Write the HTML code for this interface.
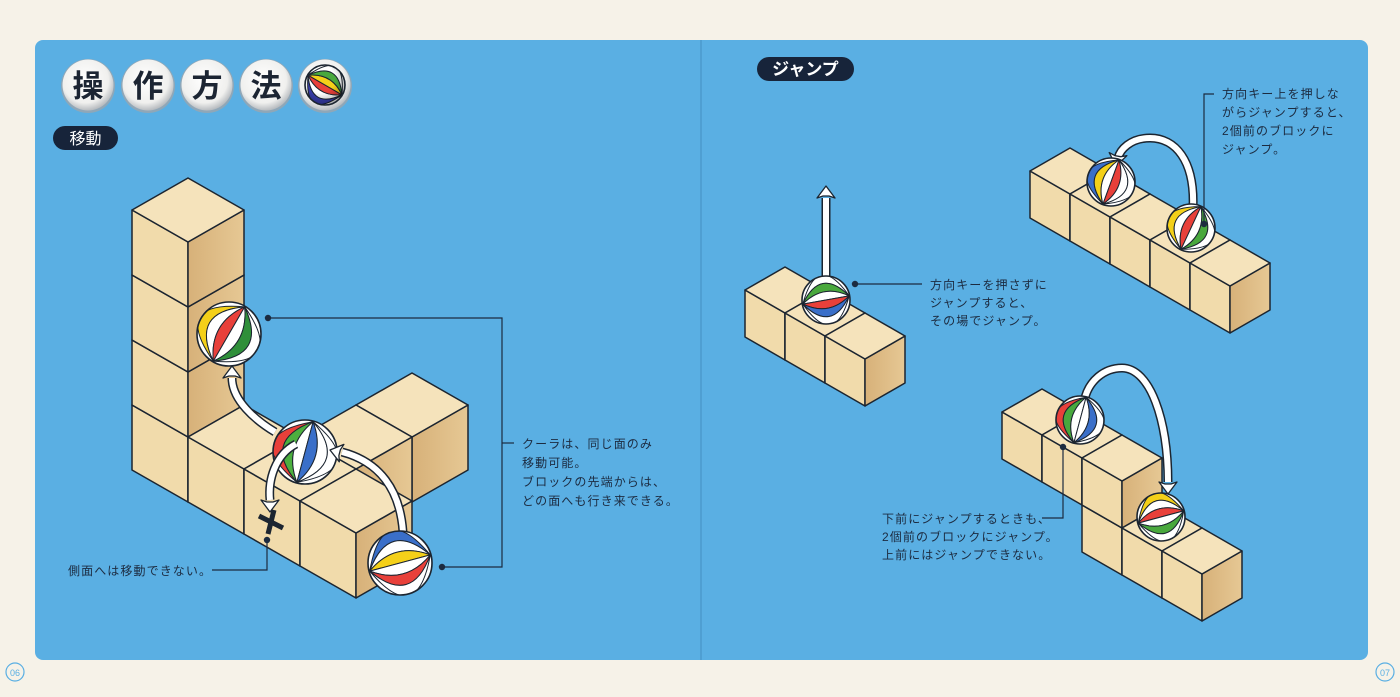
<!DOCTYPE html>
<html><head><meta charset="utf-8">
<style>
html,body{margin:0;padding:0;background:#f6f2e8;}
svg{display:block;}
text{font-family:"Liberation Sans","Noto Sans CJK JP",sans-serif;}
.t{font-size:12px;fill:#1c2b40;letter-spacing:1.1px;}
</style></head>
<body>
<svg id="s" width="1400" height="697" viewBox="0 0 1400 697" xmlns="http://www.w3.org/2000/svg">
<defs>
<linearGradient id="rf" x1="0" y1="0" x2="1" y2="0"><stop offset="0" stop-color="#d7b179"/><stop offset="1" stop-color="#e6c894"/></linearGradient>
<radialGradient id="tc" cx="0.45" cy="0.4" r="0.6"><stop offset="0" stop-color="#ffffff"/><stop offset="0.75" stop-color="#f0f0ee"/><stop offset="1" stop-color="#b8bcc0"/></radialGradient>
<radialGradient id="sh" cx="0.4" cy="0.35" r="0.7"><stop offset="0.5" stop-color="#000" stop-opacity="0"/><stop offset="1" stop-color="#000" stop-opacity="0.35"/></radialGradient>
</defs>
<rect x="0" y="0" width="1400" height="697" fill="#f6f2e8"/>
<rect x="35" y="40" width="1333" height="620" rx="8" fill="#5aafe3"/>
<line x1="701" y1="40" x2="701" y2="660" stroke="#4f9fd2" stroke-width="2"/>
<g id="cubes"></g>
<g id="over"></g>
</svg>
<script>
const NS="http://www.w3.org/2000/svg";
const cg=document.getElementById('cubes');
const og=document.getElementById('over');
function el(p,tag,a,txt){const e=document.createElementNS(NS,tag);for(const k in a)e.setAttribute(k,a[k]);if(txt)e.textContent=txt;p.appendChild(e);return e;}
function pts(a){return a.map(p=>p[0].toFixed(1)+','+p[1].toFixed(1)).join(' ');}
function fig(ox,oy,dx,dy,h,list){
  list.sort((a,b)=>(a[0]+a[1])-(b[0]+b[1])||a[2]-b[2]);
  for(const [x,y,z] of list){
    const X=ox+(x-y)*dx, Y=oy+(x+y)*dy-z*h;
    const T=[X,Y],R=[X+dx,Y+dy],B=[X,Y+2*dy],L=[X-dx,Y+dy];
    const Rh=[R[0],R[1]+h],Bh=[B[0],B[1]+h],Lh=[L[0],L[1]+h];
    const st={stroke:'#1c2530','stroke-width':1.5,'stroke-linejoin':'round'};
    el(cg,'polygon',Object.assign({points:pts([L,B,Bh,Lh]),fill:'#f1dbab'},st));
    el(cg,'polygon',Object.assign({points:pts([B,R,Rh,Bh]),fill:'url(#rf)'},st));
    el(cg,'polygon',Object.assign({points:pts([T,R,B,L]),fill:'#f5e3bb'},st));
  }
}
fig(188,373,56,32,65,[[0,0,0],[0,0,1],[0,0,2],[0,0,3],[1,0,0],[2,0,0],[3,0,0],[2,-1,0],[2,-2,0]]);
fig(785,267,40,23,47,[[0,0,0],[1,0,0],[2,0,0]]);
fig(1070,148,40,23,47,[[0,0,0],[1,0,0],[2,0,0],[3,0,0],[4,0,0]]);
fig(1042,436,40,23,47,[[0,0,1],[1,0,1],[2,0,1],[2,0,0],[3,0,0],[4,0,0]]);

let bid=0;
// beach ball: meridian curves between two poles
function ball(cx,cy,r,cols,tilt,shade){
  const id='b'+(bid++);
  const cp=el(og,'clipPath',{id:id});el(cp,'circle',{cx:cx,cy:cy,r:r});
  const g=el(og,'g',{'clip-path':'url(#'+id+')'});
  el(g,'circle',{cx:cx,cy:cy,r:r,fill:'#fff'});
  const t=(tilt||-25)*Math.PI/180;
  const ux=Math.sin(-t), uy=-Math.cos(t); // axis direction (toward top pole)
  const px=-uy, py=ux; // perpendicular
  const P1=[cx+ux*r*0.98,cy+uy*r*0.98], P2=[cx-ux*r*0.98,cy-uy*r*0.98];
  const n=cols.length;
  const ks=[];for(let i=0;i<=n;i++)ks.push(-2.1+4.2*i/n);
  for(let i=0;i<n;i++){
    const k0=ks[i],k1=ks[i+1];
    const C0=[cx+px*k0*r,cy+py*k0*r],C1=[cx+px*k1*r,cy+py*k1*r];
    el(g,'path',{d:`M${P1[0]},${P1[1]} Q${C0[0]},${C0[1]} ${P2[0]},${P2[1]} Q${C1[0]},${C1[1]} ${P1[0]},${P1[1]} Z`,fill:cols[i],stroke:'#1c2530','stroke-width':1});
  }
  if(shade) el(g,'circle',{cx:cx,cy:cy,r:r,fill:'url(#sh)'});
  el(og,'circle',{cx:cx,cy:cy,r:r,fill:'none',stroke:'#1c2530','stroke-width':1.6});
}
function arrow(d,hx,hy,ang){
  el(og,'path',{d:d,fill:'none',stroke:'#1c2530','stroke-width':9,'stroke-linecap':'butt'});
  el(og,'path',{d:d,fill:'none',stroke:'#fff','stroke-width':6});
  const a=ang*Math.PI/180, c=Math.cos(a), s=Math.sin(a);
  const P=(u,v)=>[hx+u*c-v*s,hy+u*s+v*c];
  el(og,'polygon',{points:pts([P(0,0),P(-12,-9),P(-10,-3),P(-10,3),P(-12,9)]),fill:'#fff',stroke:'#1c2530','stroke-width':1.3,'stroke-linejoin':'round'});
}
const W='#fff';
ball(229,334,32,['#f4d019',W,'#e8403a',W,'#2f8f3a',W],-30);
arrow('M275,432 C255,420 232,400 232,378',232,366,-90);
ball(305,452,32,['#e8403a','#4caf3f',W,'#3a6fc9',W,W],-15);
arrow('M296,444 C275,455 268,480 270,500',270,512,90);
arrow('M403,532 C400,490 380,462 342,452',330,450,195);
ball(400,563,32,['#3a6fc9',W,'#f4d019',W,'#e8403a',W],-75);
el(og,'path',{d:'M259,516 L283,528 M274,510 L268,534',stroke:'#1c2530','stroke-width':5});
arrow('M826,278 L826,198',826,186,-90);
ball(826,300,24,[W,'#49a83d',W,'#e8403a','#3a6fc9',W],-80);
arrow('M1193,208 C1195,160 1175,138 1150,138 C1130,138 1120,150 1118,158',1116,166,100);
ball(1111,182,24,['#3a6fc9','#f4d019',W,'#e8403a',W,W],-20);
ball(1191,228,24,['#f4d019',W,'#e8403a',W,'#49a83d',W],-25);
arrow('M1084,402 C1088,380 1105,368 1122,368 C1150,368 1168,420 1168,482',1168,494,90);
ball(1080,420,24,['#e8403a','#49a83d',W,W,'#3a6fc9',W],-15);
ball(1161,517,24,['#f4d019',W,'#e8403a',W,'#49a83d',W],-75);

const ln={fill:'none',stroke:'#1c2b40','stroke-width':1.2};
el(og,'polyline',Object.assign({points:'268,318 502,318 502,567 442,567'},ln));
el(og,'line',Object.assign({x1:502,y1:443,x2:514,y2:443},ln));
el(og,'circle',{cx:268,cy:318,r:3.2,fill:'#1c2b40'});
el(og,'circle',{cx:442,cy:567,r:3.2,fill:'#1c2b40'});
el(og,'polyline',Object.assign({points:'267,540 267,570 212,570'},ln));
el(og,'circle',{cx:267,cy:540,r:3.2,fill:'#1c2b40'});
el(og,'line',Object.assign({x1:855,y1:284,x2:922,y2:284},ln));
el(og,'circle',{cx:855,cy:284,r:3.2,fill:'#1c2b40'});
el(og,'polyline',Object.assign({points:'1204,224 1204,94 1214,94'},ln));
el(og,'circle',{cx:1204,cy:224,r:3.2,fill:'#1c2b40'});
el(og,'polyline',Object.assign({points:'1063,447 1063,518 1042,518'},ln));
el(og,'circle',{cx:1063,cy:447,r:3.2,fill:'#1c2b40'});

function txt(x,y,lines,lh){lines.forEach((s,i)=>el(og,'text',{x:x,y:y+i*lh,class:'t'},s));}
txt(522,448,['クーラは、同じ面のみ','移動可能。','ブロックの先端からは、','どの面へも行き来できる。'],19);
txt(68,575,['側面へは移動できない。'],18);
txt(930,289,['方向キーを押さずに','ジャンプすると、','その場でジャンプ。'],18);
txt(1222,98,['方向キー上を押しな','がらジャンプすると、','2個前のブロックに','ジャンプ。'],18.5);
txt(882,523,['下前にジャンプするときも、','2個前のブロックにジャンプ。','上前にはジャンプできない。'],18);

const tl=['操','作','方','法'];
[88,148,207,266,325].forEach((cx,i)=>{
  el(og,'circle',{cx:cx,cy:86,r:27,fill:'#8fa7b8'});
  el(og,'circle',{cx:cx,cy:85,r:25.5,fill:'url(#tc)'});
  if(i<4) el(og,'text',{x:cx,y:97,'text-anchor':'middle','font-size':31,'font-weight':'bold',fill:'#1c2533'},tl[i]);
});
ball(325,85,20,['#3a3fb0',W,'#e8403a','#f4d019','#49a83d',W],60,true);
el(og,'rect',{x:53,y:126,width:65,height:24,rx:12,fill:'#17243a'});
el(og,'text',{x:85.5,y:144,'text-anchor':'middle','font-size':16,fill:'#fff'},'移動');
el(og,'rect',{x:757,y:57,width:97,height:24,rx:12,fill:'#17243a'});
el(og,'text',{x:805.5,y:75,'text-anchor':'middle','font-size':17,'font-weight':'bold',fill:'#fff'},'ジャンプ');
[[15,'06'],[1385,'07']].forEach(([x,s])=>{
  el(og,'circle',{cx:x,cy:672,r:9,fill:'none',stroke:'#5aafe3','stroke-width':1.2});
  el(og,'text',{x:x,y:676,'text-anchor':'middle','font-size':9,fill:'#5aafe3'},s);
});
</script>
</body></html>
